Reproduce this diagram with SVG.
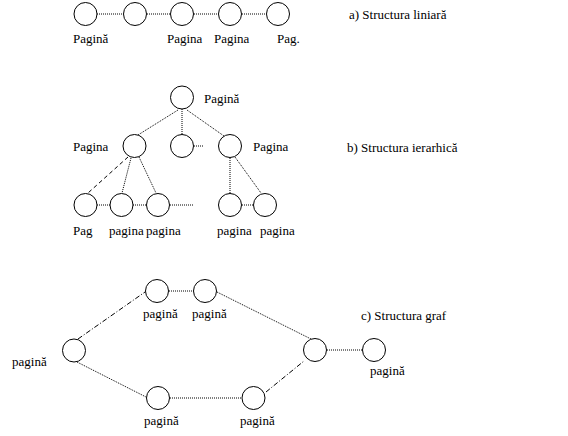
<svg xmlns="http://www.w3.org/2000/svg" width="568" height="436" viewBox="0 0 568 436">
<style>
text{font-family:"Liberation Serif","Times New Roman",serif;font-size:13px;fill:#000}
circle{fill:#fff;stroke:#000;stroke-width:1}
.dot{stroke:#000;stroke-width:1;fill:none;stroke-dasharray:1 1}
.dash{stroke:#000;stroke-width:1;fill:none;stroke-dasharray:4 3}
.dd{stroke:#000;stroke-width:1;fill:none;stroke-dasharray:5 2 1 2}
</style>
<rect width="568" height="436" fill="#fff"/>
<g id="connectors">
<line class="dot" x1="97" y1="14" x2="123" y2="14"/>
<line class="dot" x1="147" y1="14" x2="170" y2="14"/>
<line class="dot" x1="194" y1="14" x2="218" y2="14"/>
<line class="dot" x1="242" y1="14" x2="266" y2="14"/>
<line class="dot" x1="178" y1="110" x2="138" y2="135"/>
<line class="dot" x1="182" y1="109" x2="182" y2="134"/>
<line class="dot" x1="187" y1="110" x2="224" y2="136"/>
<line class="dot" x1="194" y1="146" x2="204" y2="146"/>
<line class="dash" x1="128" y1="157" x2="88" y2="193"/>
<line class="dot" x1="131" y1="158" x2="122" y2="193"/>
<line class="dot" x1="139" y1="157" x2="156" y2="193"/>
<line class="dot" x1="97" y1="205" x2="110" y2="205"/>
<line class="dot" x1="133" y1="205" x2="146" y2="205"/>
<line class="dot" x1="170" y1="205" x2="193" y2="205"/>
<line class="dot" x1="230" y1="158" x2="230" y2="193"/>
<line class="dot" x1="235" y1="157" x2="261" y2="193"/>
<line class="dot" x1="242" y1="205" x2="253" y2="205"/>
<line class="dd" x1="78" y1="339" x2="145" y2="292"/>
<line class="dot" x1="169" y1="291" x2="193" y2="291"/>
<line class="dot" x1="217" y1="292" x2="311" y2="339"/>
<line class="dot" x1="77" y1="362" x2="146" y2="397"/>
<line class="dot" x1="170" y1="398" x2="241" y2="398"/>
<line class="dd" x1="266" y1="392" x2="304" y2="361"/>
<line class="dot" x1="327" y1="350" x2="362" y2="350"/>
</g>
<g id="a1"><circle cx="85.5" cy="14" r="11.5"/><text x="73" y="43">Pagină</text></g>
<g id="a2"><circle cx="135" cy="14" r="11.5"/></g>
<g id="a3"><circle cx="182" cy="14" r="11.5"/><text x="167" y="43">Pagina</text></g>
<g id="a4"><circle cx="230" cy="14" r="11.5"/><text x="214" y="43">Pagina</text></g>
<g id="a5"><circle cx="278" cy="14" r="11.5"/><text x="277" y="43">Pag.</text></g>
<g id="label-a"><text x="349" y="19">a) Structura liniară</text></g>
<g id="b-root"><circle cx="182" cy="97.5" r="11.5"/><text x="204" y="103">Pagină</text></g>
<g id="b-l"><circle cx="134.5" cy="146" r="11.5"/><text x="73" y="151">Pagina</text></g>
<g id="b-m"><circle cx="182" cy="146" r="11.5"/></g>
<g id="b-r"><circle cx="230" cy="146" r="11.5"/><text x="253" y="151">Pagina</text></g>
<g id="b-l1"><circle cx="85.5" cy="205" r="11.5"/><text x="73" y="235">Pag</text></g>
<g id="b-l2"><circle cx="121.5" cy="205" r="11.5"/><text x="109" y="235" font-size="12.5">pagina</text></g>
<g id="b-l3"><circle cx="158" cy="205" r="11.5"/><text x="146" y="235" font-size="12.5">pagina</text></g>
<g id="b-r1"><circle cx="230" cy="205" r="11.5"/><text x="217" y="235">pagina</text></g>
<g id="b-r2"><circle cx="265" cy="205" r="11.5"/><text x="260" y="235">pagina</text></g>
<g id="label-b"><text x="347" y="152">b) Structura ierarhică</text></g>
<g id="c-left"><circle cx="74" cy="350.5" r="11.5"/><text x="12" y="366">pagină</text></g>
<g id="c-t1"><circle cx="157" cy="291" r="11.5"/><text x="143" y="318">pagină</text></g>
<g id="c-t2"><circle cx="205" cy="291" r="11.5"/><text x="192" y="318">pagină</text></g>
<g id="c-b1"><circle cx="158" cy="398" r="11.5"/><text x="144" y="425">pagină</text></g>
<g id="c-b2"><circle cx="253.5" cy="398" r="11.5"/><text x="240" y="425">pagină</text></g>
<g id="c-r"><circle cx="315" cy="350" r="11.5"/></g>
<g id="c-rr"><circle cx="374" cy="350" r="11.5"/><text x="370" y="375">pagină</text></g>
<g id="label-c"><text x="361" y="320">c) Structura graf</text></g>
</svg>
